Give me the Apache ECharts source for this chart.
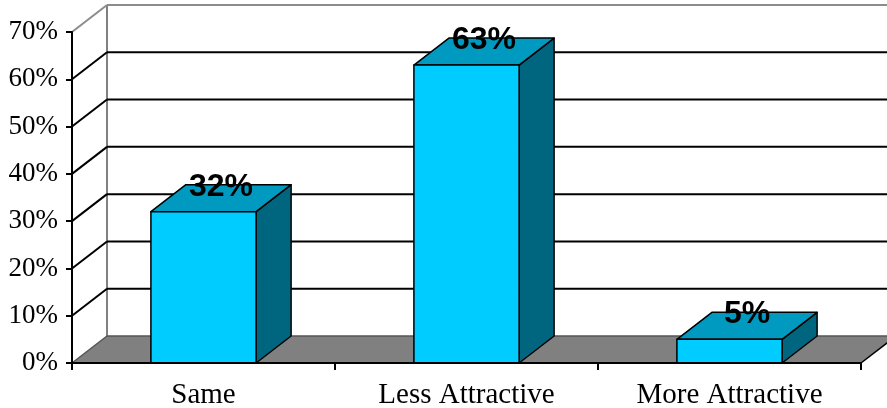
<!DOCTYPE html>
<html>
<head>
<meta charset="utf-8">
<script src="https://cdn.jsdelivr.net/npm/echarts@6/dist/echarts.min.js"></script>
<style>
  html, body { margin: 0; padding: 0; background: #fff; }
  #chart { width: 887px; height: 408px; }
</style>
</head>
<body>
<div id="chart"></div>
<script>
// Survey answers (percent of respondents)
const categories = ['Same', 'Less Attractive', 'More Attractive'];
const shares = [32, 63, 5];
const yTicks = [0, 10, 20, 30, 40, 50, 60, 70];

// Oblique depth of the 3D box (pixels)
const DX = 35, DY = -27;
const SERIF = "'Liberation Serif', 'Times New Roman', serif";
const SANS = "'Liberation Sans', Arial, sans-serif";

const chart = echarts.init(document.getElementById('chart'), null, { renderer: 'canvas' });

// Floor, back wall edges and gridlines projected into depth
function renderFrame(params, api) {
  const cs = params.coordSys;
  const v = api.value(0);
  const y = api.coord([0, v])[1];
  const x0 = cs.x;
  const x1 = cs.x + cs.width;
  const farRight = api.getWidth() + 20;
  const children = [];
  if (v === 0) {
    children.push({
      type: 'polygon',
      shape: { points: [[x0, y], [x1, y], [x1 + DX, y + DY], [x0 + DX, y + DY]] },
      style: { fill: '#808080', stroke: null }
    });
    // back wall left edge
    children.push({
      type: 'line',
      shape: { x1: x0 + DX, y1: y + DY, x2: x0 + DX, y2: api.coord([0, yTicks[yTicks.length - 1]])[1] + DY },
      style: { stroke: '#808080', lineWidth: 2 }
    });
    children.push({
      type: 'line',
      shape: { x1: x0 + DX, y1: y + DY, x2: farRight, y2: y + DY },
      style: { stroke: '#555', lineWidth: 1.5 }
    });
    children.push({
      type: 'line',
      shape: { x1: x0, y1: y, x2: x0 + DX, y2: y + DY },
      style: { stroke: '#555', lineWidth: 1.5 }
    });
    children.push({
      type: 'line',
      shape: { x1: x1, y1: y, x2: x1 + DX, y2: y + DY },
      style: { stroke: '#000', lineWidth: 1.5 }
    });
  } else {
    const top = v === yTicks[yTicks.length - 1];
    const color = top ? '#8c8c8c' : '#000';
    children.push({
      type: 'line',
      shape: { x1: x0, y1: y, x2: x0 + DX, y2: y + DY },
      style: { stroke: color, lineWidth: 2 }
    });
    children.push({
      type: 'line',
      shape: { x1: x0 + DX, y1: y + DY, x2: farRight, y2: y + DY },
      style: { stroke: color, lineWidth: 2 }
    });
  }
  return { type: 'group', children };
}

// 3D column: front face, top face, right side face and value label
function renderBar(params, api) {
  const idx = api.value(0);
  const val = api.value(1);
  const base = api.coord([idx, 0]);
  const top = api.coord([idx, val]);
  const bw = api.size([1, 0])[0] * 0.4;
  const l = base[0] - bw / 2, r = base[0] + bw / 2;
  const yb = base[1], yt = top[1];
  const edge = { stroke: '#000', lineWidth: 1.5, lineJoin: 'round' };
  return {
    type: 'group',
    children: [
      {
        type: 'polygon',
        shape: { points: [[r, yb], [r + DX, yb + DY], [r + DX, yt + DY], [r, yt]] },
        style: Object.assign({ fill: '#006680' }, edge)
      },
      {
        type: 'polygon',
        shape: { points: [[l, yt], [r, yt], [r + DX, yt + DY], [l + DX, yt + DY]] },
        style: Object.assign({ fill: '#0099BF' }, edge)
      },
      {
        type: 'rect',
        shape: { x: l, y: yt, width: bw, height: yb - yt },
        style: Object.assign({ fill: '#00CCFF' }, edge)
      },
      {
        type: 'text',
        x: base[0] + DX / 2,
        y: yt + DY + 2,
        style: {
          text: val + '%',
          fill: '#000',
          font: 'bold 32px ' + SANS,
          align: 'center',
          verticalAlign: 'middle'
        }
      }
    ]
  };
}

chart.setOption({
  animation: false,
  backgroundColor: '#fff',
  grid: { left: 72, right: 26, top: 32, bottom: 45, containLabel: false, outerBoundsMode: 'none' },
  xAxis: {
    type: 'category',
    data: categories,
    z: 10,
    axisLine: { lineStyle: { color: '#000', width: 2 } },
    axisTick: { show: true, length: 7, lineStyle: { color: '#000', width: 2 } },
    axisLabel: { color: '#000', fontFamily: SERIF, fontSize: 29, margin: 18 },
    splitLine: { show: false }
  },
  yAxis: {
    type: 'value',
    min: 0,
    max: 70,
    interval: 10,
    z: 10,
    axisLine: { show: true, lineStyle: { color: '#000', width: 2 } },
    axisTick: { show: true, length: 6, lineStyle: { color: '#000', width: 2 } },
    axisLabel: { color: '#000', fontFamily: SERIF, fontSize: 27, margin: 14, formatter: '{value}%' },
    splitLine: { show: false }
  },
  series: [
    {
      type: 'custom',
      name: 'frame',
      renderItem: renderFrame,
      data: yTicks.map(v => [v]),
      encode: { y: 0 },
      silent: true,
      z: 1
    },
    {
      type: 'custom',
      name: 'share',
      renderItem: renderBar,
      data: shares.map((v, i) => [i, v]),
      encode: { x: 0, y: 1 },
      z: 2
    }
  ]
});
</script>
</body>
</html>
